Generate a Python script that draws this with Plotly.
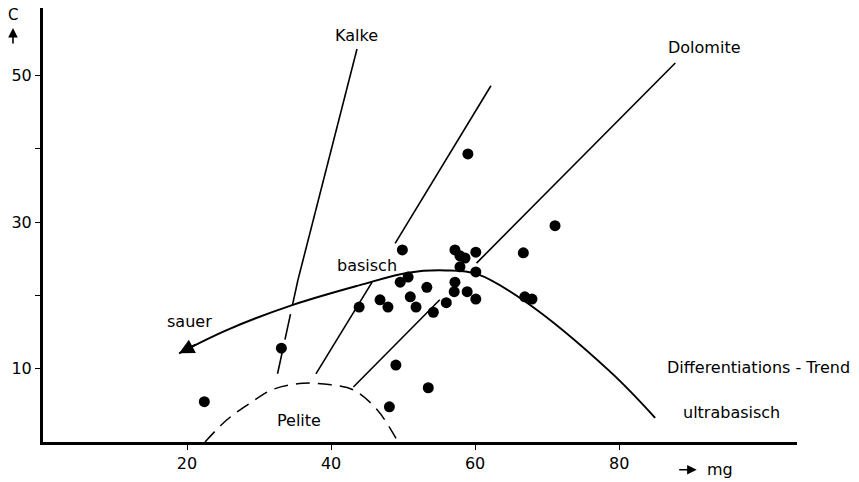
import plotly.graph_objects as go

# ---- data ----
mg = [22.4, 33.1, 43.9, 46.8, 47.9, 49.6, 50.7, 49.9, 51.0, 51.8, 53.3, 54.2, 56.0,
      57.2, 57.9, 58.6, 60.1, 57.9, 60.1, 57.2, 57.1, 58.9, 60.1, 59.0, 66.7, 66.9,
      67.9, 71.1, 49.0, 53.5, 48.1]
c = [5.5, 12.8, 18.4, 19.4, 18.4, 21.8, 22.5, 26.2, 19.8, 18.4, 21.1, 17.7, 19.0,
     26.2, 25.4, 25.1, 25.9, 23.9, 23.2, 21.8, 20.5, 20.5, 19.5, 39.3, 25.8, 19.8,
     19.5, 29.5, 10.5, 7.4, 4.8]

trend_x = [18.9, 25.6, 34.7, 44.0, 50.7, 56.0, 60.3, 66.9, 78.75, 85.0]
trend_y = [12.1, 15.3, 18.7, 21.4, 23.1, 23.4, 22.9, 19.2, 9.6, 3.3]

pelite_x = [22.5, 25.5, 28.75, 32.0, 36.1, 40.0, 43.1, 46.4, 49.3]
pelite_y = [0.0, 3.0, 5.3, 7.2, 8.0, 7.8, 7.1, 4.4, 0.0]

kalke_solid_x = [43.6, 35.4]
kalke_solid_y = [53.6, 22.1]
kalke_dash_x = [35.4, 32.5]
kalke_dash_y = [22.1, 9.0]

mid_upper_x = [62.2, 48.9]
mid_upper_y = [48.6, 27.1]
mid_lower_x = [45.7, 37.9]
mid_lower_y = [21.8, 9.3]

dolo_upper_x = [87.8, 60.2]
dolo_upper_y = [51.7, 24.4]
dolo_lower_x = [55.1, 43.1]
dolo_lower_y = [19.4, 7.5]

x_ticks = [20, 40, 60, 80]
y_ticks = [10, 20, 30, 40, 50]
y_ticktext = ["10", "", "30", "", "50"]

FONT = "DejaVu Sans"
fig = go.Figure()

def seg(x, y, dash="solid", width=1.6):
    fig.add_trace(go.Scatter(x=x, y=y, mode="lines",
                             line=dict(color="black", width=width, dash=dash),
                             hoverinfo="skip", showlegend=False))

seg(kalke_solid_x, kalke_solid_y)
seg(kalke_dash_x, kalke_dash_y, dash="26px,9px")
seg(mid_upper_x, mid_upper_y)
seg(mid_lower_x, mid_lower_y)
seg(dolo_upper_x, dolo_upper_y)
seg(dolo_lower_x, dolo_lower_y)

fig.add_trace(go.Scatter(x=pelite_x, y=pelite_y, mode="lines",
                         line=dict(color="black", width=1.5, dash="14px,8px", shape="spline"),
                         hoverinfo="skip", showlegend=False))
fig.add_trace(go.Scatter(x=trend_x, y=trend_y, mode="lines",
                         line=dict(color="black", width=2, shape="spline", smoothing=1.0),
                         hoverinfo="skip", showlegend=False))
fig.add_trace(go.Scatter(x=mg, y=c, mode="markers",
                         marker=dict(color="black", size=11),
                         showlegend=False))

# arrowhead at the left end of the trend curve
fig.add_annotation(x=trend_x[0], y=trend_y[0], ax=trend_x[0] + 2.5, ay=trend_y[0] + 1.3,
                   xref="x", yref="y", axref="x", ayref="y", text="",
                   showarrow=True, arrowhead=2, arrowsize=1.5, arrowwidth=2, arrowcolor="black")
# C axis arrow (paper coordinates, outside the plot area)
fig.add_annotation(x=-0.0398, y=0.954, ax=0, ay=17, xref="paper", yref="paper",
                   text="", showarrow=True, arrowhead=2, arrowsize=1.2, arrowwidth=1.6,
                   arrowcolor="black")
fig.add_annotation(x=-0.0398, y=0.984, xref="paper", yref="paper", text="C",
                   xanchor="center", yanchor="middle",
                   showarrow=False, font=dict(family=FONT, size=15, color="black"))
# mg axis arrow
fig.add_annotation(x=0.867, y=-0.064, ax=-19, ay=0, xref="paper", yref="paper",
                   text="", showarrow=True, arrowhead=2, arrowsize=1.2, arrowwidth=1.6,
                   arrowcolor="black")
fig.add_annotation(x=0.898, y=-0.064, xref="paper", yref="paper", text="mg",
                   xanchor="center", yanchor="middle",
                   showarrow=False, font=dict(family=FONT, size=16, color="black"))

labels = [
    ("Kalke", 43.5, 55.5),
    ("Dolomite", 91.9, 53.8),
    ("basisch", 45.0, 24.1),
    ("sauer", 20.4, 16.4),
    ("Pelite", 35.6, 3.0),
    ("Differentiations - Trend", 99.3, 10.2),
    ("ultrabasisch", 95.6, 4.0),
]
for t, x, y in labels:
    fig.add_annotation(x=x, y=y, xref="x", yref="y", text=t, showarrow=False,
                       xanchor="center", yanchor="middle",
                       font=dict(family=FONT, size=16, color="black"))

fig.update_xaxes(range=[0, 104.7], showgrid=False, zeroline=False,
                 showline=True, linewidth=3, linecolor="black",
                 ticks="outside", ticklen=5, tickwidth=1.2, tickcolor="black",
                 tickvals=x_ticks, tickfont=dict(family=FONT, size=16, color="black"))
fig.update_yaxes(range=[0, 59.2], showgrid=False, zeroline=False,
                 showline=True, linewidth=3, linecolor="black",
                 ticks="outside", ticklen=5, tickwidth=1.2, tickcolor="black",
                 tickvals=y_ticks, ticktext=y_ticktext,
                 tickfont=dict(family=FONT, size=16, color="black"))

fig.update_layout(width=859, height=482, margin=dict(l=43, r=62, t=8, b=40),
                  plot_bgcolor="white", paper_bgcolor="white", showlegend=False)

fig.write_html("out.html")
